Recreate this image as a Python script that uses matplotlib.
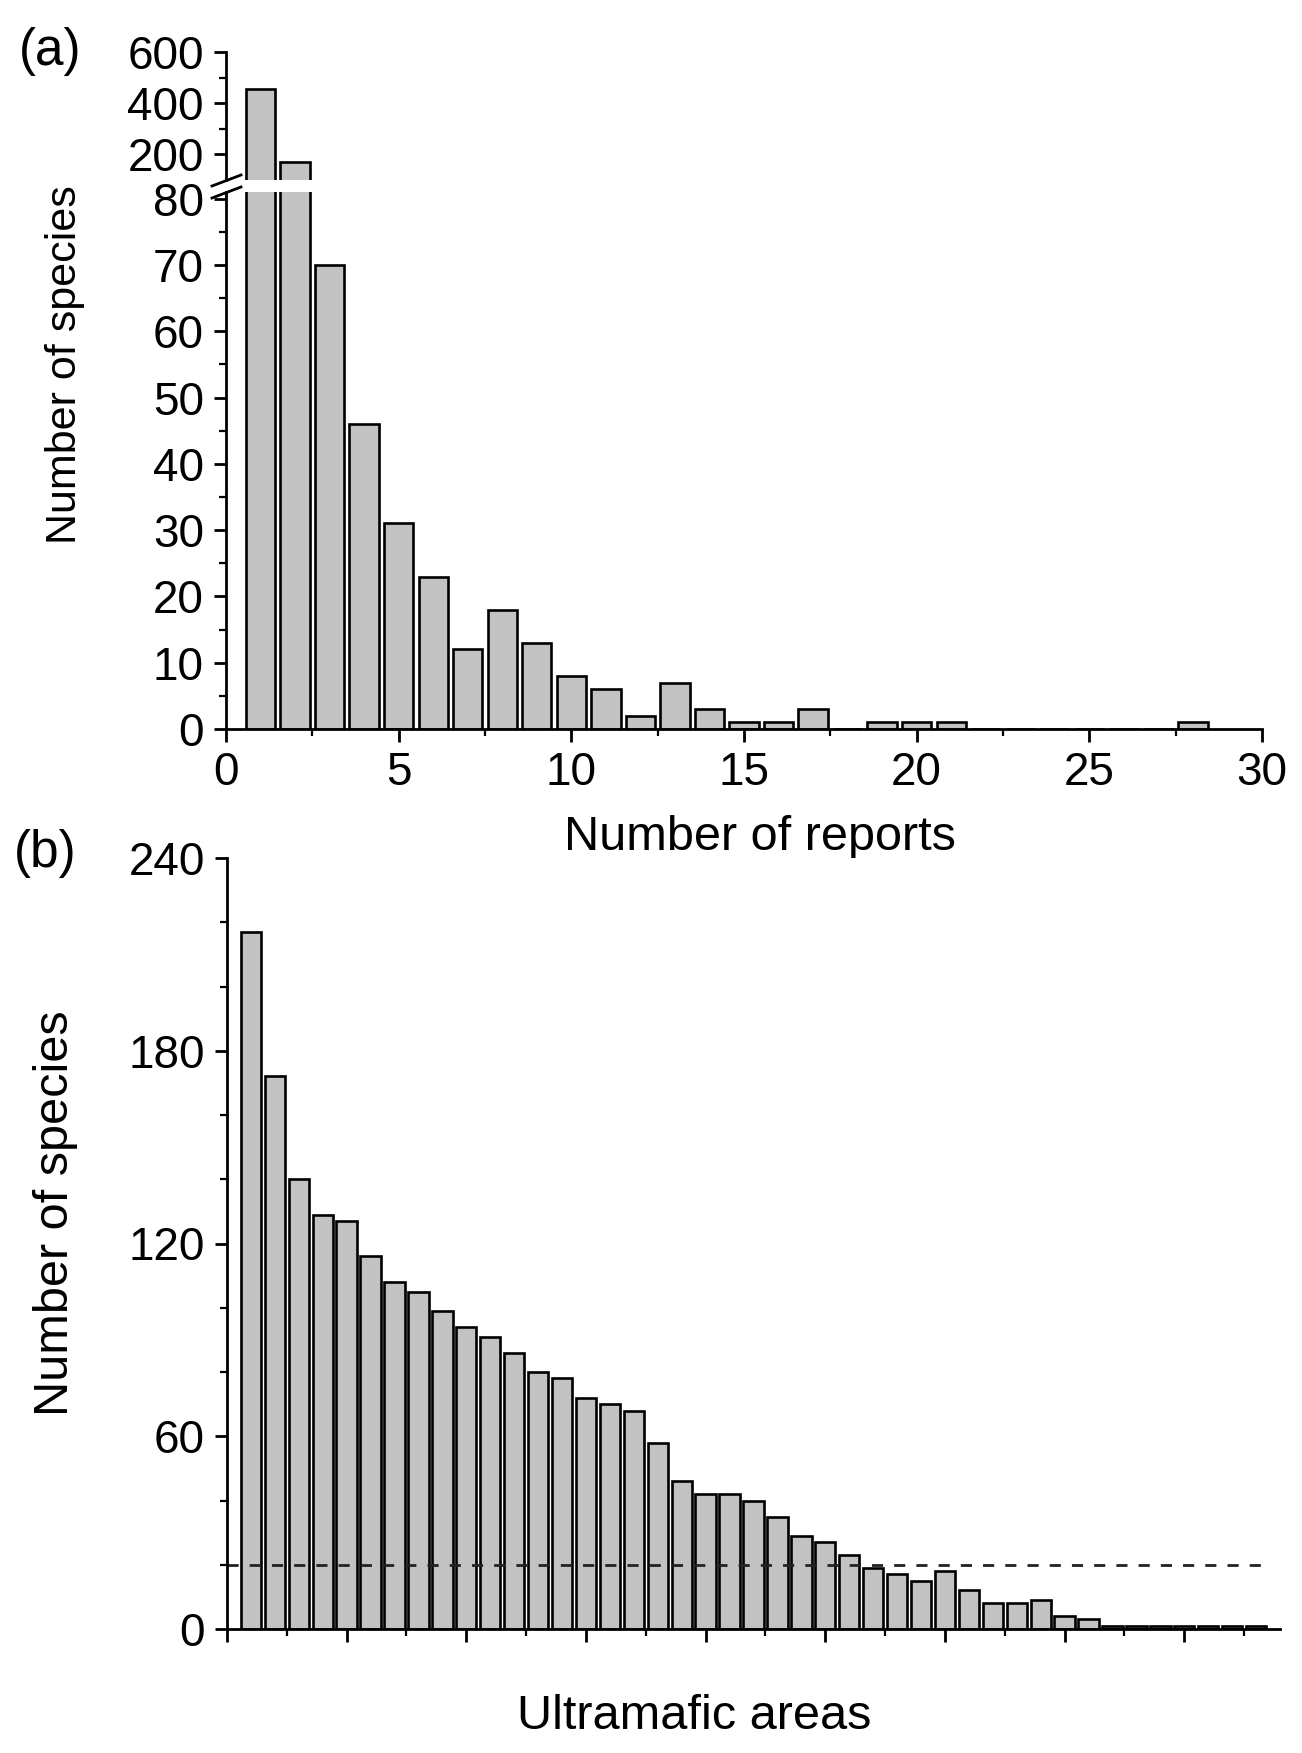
import numpy as np
import matplotlib
matplotlib.use("Agg")
import matplotlib.pyplot as plt
from matplotlib.lines import Line2D
from matplotlib.ticker import MultipleLocator, FixedLocator

plt.rcParams['font.family'] = ['Liberation Sans', 'DejaVu Sans']

# === data ===
# (a) number of species vs number of reports
reports = np.arange(1, 29)
species_a = [455, 170, 70, 46, 31, 23, 12, 18, 13, 8, 6, 2, 7, 3,
             1, 1, 3, 0, 1, 1, 1, 0, 0, 0, 0, 0, 0, 1]

# (b) number of species per ultramafic area (ranked)
areas = np.arange(1, 44)
species_b = [217, 172, 140, 129, 127, 116, 108, 105, 99, 94, 91, 86, 80, 78,
             72, 70, 68, 58, 46, 42, 42, 40, 35, 29, 27, 23, 19, 17, 15, 18,
             12, 8, 8, 9, 4, 3, 1, 1, 1, 1, 1, 1, 1]
threshold = 20

# === layout (pixel boxes on a 1302x1753 canvas) ===
W, H = 1302, 1753
fig = plt.figure(figsize=(W / 100, H / 100), dpi=100)


def box(x0, y0, x1, y1):
    return [x0 / W, 1 - y1 / H, (x1 - x0) / W, (y1 - y0) / H]


def fpt(x, y):
    return x / W, 1 - y / H


ax_hi = fig.add_axes(box(226, 52, 1262, 180))
ax_lo = fig.add_axes(box(226, 192, 1262, 729))
ax_b = fig.add_axes(box(227, 858, 1280, 1629))

bar_kw = dict(width=0.85, color='#c2c2c2', edgecolor='black', linewidth=1.9)
tick_fs = 33

for ax in (ax_hi, ax_lo, ax_b):
    ax.spines['top'].set_visible(False)
    ax.spines['right'].set_visible(False)
    ax.spines['left'].set_linewidth(2)
    ax.spines['bottom'].set_linewidth(2)
    ax.tick_params(which='major', direction='out', length=9, width=2,
                   labelsize=tick_fs, pad=7)
    ax.tick_params(which='minor', direction='out', length=5, width=1.6)

# --- panel (a): broken y axis ---
ax_hi.bar(reports, species_a, **bar_kw)
ax_lo.bar(reports, species_a, **bar_kw)

ax_hi.set_ylim(100, 600)
ax_hi.set_xlim(0, 30)
ax_hi.spines['bottom'].set_visible(False)
ax_hi.tick_params(axis='x', which='both', bottom=False, labelbottom=False)
ax_hi.yaxis.set_major_locator(FixedLocator([200, 400, 600]))
ax_hi.yaxis.set_minor_locator(FixedLocator([300, 500]))

ax_lo.set_ylim(0, 81)
ax_lo.set_xlim(0, 30)
ax_lo.yaxis.set_major_locator(FixedLocator(np.arange(0, 81, 10)))
ax_lo.yaxis.set_minor_locator(MultipleLocator(5))
ax_lo.xaxis.set_major_locator(MultipleLocator(5))
ax_lo.xaxis.set_minor_locator(MultipleLocator(2.5))
ax_lo.set_xlabel('Number of reports', fontsize=35, labelpad=14)
ax_lo.xaxis.label.set_x(0.515)

# break marks on the y axis
for y0 in (186, 198):
    x_a, y_a = fpt(212, y0)
    x_b, y_b = fpt(241, y0 - 11)
    fig.add_artist(Line2D([x_a, x_b], [y_a, y_b], color='black', lw=2,
                          transform=fig.transFigure))

fig.text(*fpt(65, 365), 'Number of species', rotation=90, fontsize=31,
         ha='center', va='center')
fig.text(*fpt(50, 52), '(a)', fontsize=37, ha='center', va='center')

# --- panel (b) ---
ax_b.bar(areas, species_b, **bar_kw)
ax_b.plot([0, 43.3], [threshold, threshold], color='#222222', lw=2,
          linestyle=(0, (4, 4)))
ax_b.set_xlim(0, 44)
ax_b.set_ylim(0, 240)
ax_b.yaxis.set_major_locator(MultipleLocator(60))
ax_b.yaxis.set_minor_locator(MultipleLocator(20))
ax_b.xaxis.set_major_locator(MultipleLocator(5))
ax_b.xaxis.set_minor_locator(MultipleLocator(2.5))
ax_b.tick_params(axis='x', which='both', labelbottom=False)
ax_b.set_xlabel('Ultramafic areas', fontsize=35, labelpad=38)
ax_b.xaxis.label.set_x(0.444)

fig.text(*fpt(56, 1213), 'Number of species', rotation=90, fontsize=35,
         ha='center', va='center')
fig.text(*fpt(45, 853), '(b)', fontsize=37, ha='center', va='center')

fig.savefig('out.png', dpi=100)
